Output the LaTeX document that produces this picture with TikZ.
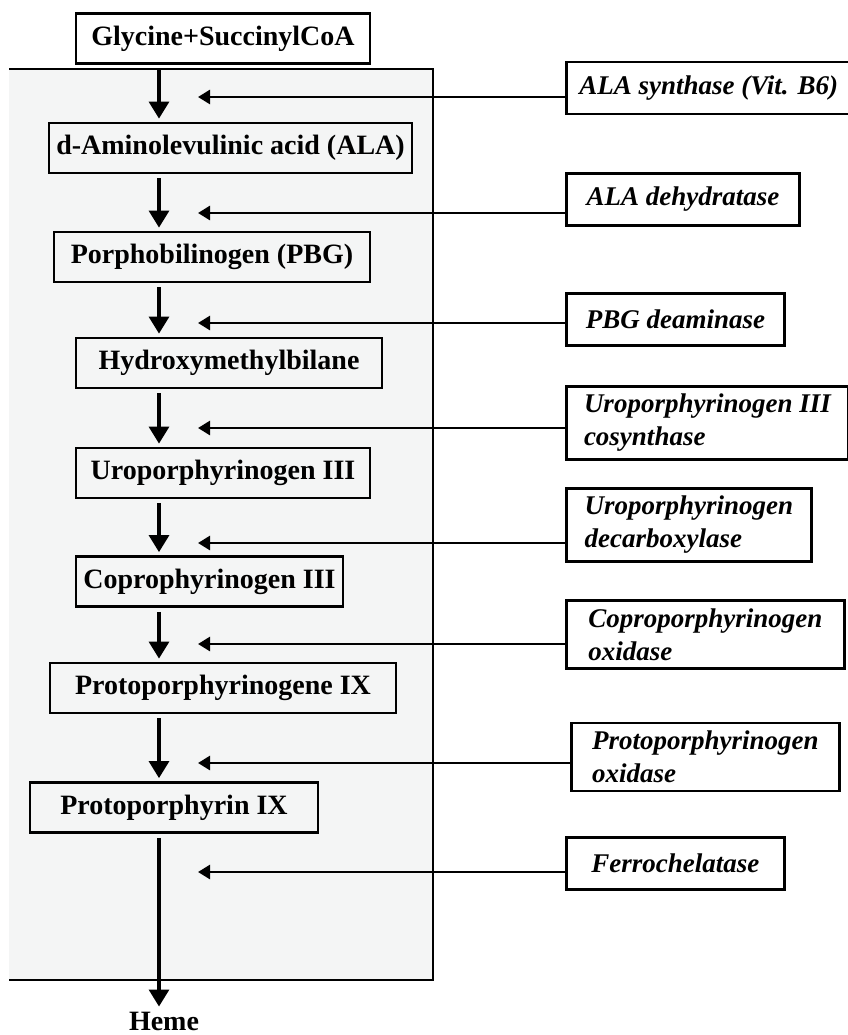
\documentclass[tikz,border=0pt]{standalone}
\usepackage{fontspec}
\setmainfont{Liberation Serif}
\usetikzlibrary{arrows.meta}
\usetikzlibrary{positioning}
\definecolor{panelgray}{HTML}{F4F5F5}
\tikzstyle{metab} = [rectangle, draw=black, line width=2.8pt, minimum height=50pt, inner xsep=6pt, inner ysep=9pt, text centered, font=\fontsize{28}{33}\selectfont\bfseries]
\tikzstyle{enzyme} = [rectangle, draw=black, line width=2.8pt, fill=white, minimum height=52pt, inner xsep=13pt, inner ysep=8pt, align=left, anchor=west, font=\fontsize{27}{33}\selectfont\bfseries\itshape]
\tikzstyle{flow} = [line width=3.2pt, -{Triangle[length=17pt,width=20pt]}, shorten <=4pt, shorten >=3pt]
\tikzstyle{act} = [line width=2.6pt, -{Triangle[length=12pt,width=14pt]}]

\begin{document}
\begin{tikzpicture}[x=1pt, y=1pt]
\useasboundingbox (0,0) rectangle (847,-1035);

% panel
\fill[panelgray] (9,-69) rectangle (433,-980);
\draw[line width=2.8pt] (9,-69) -- (433,-69) -- (433,-980) -- (9,-980);

\coordinate (col) at (159,0);

\node (gly) [metab, minimum width=294pt] at (223,-38.5) {Glycine+SuccinylCoA};
\node (ala) [metab, minimum width=363pt] at (230.5,-148) {d-Aminolevulinic acid (ALA)};
\node (pbg) [metab, minimum width=316pt] at (212,-257) {Porphobilinogen (PBG)};
\node (hmb) [metab, minimum width=306pt] at (229,-363) {Hydroxymethylbilane};
\node (uro) [metab, minimum width=294pt] at (223,-473) {Uroporphyrinogen III};
\node (copro) [metab, minimum width=267pt] at (209.5,-581.5) {Coprophyrinogen III};
\node (protogen) [metab, minimum width=346pt] at (223,-688) {Protoporphyrinogene IX};
\node (protoix) [metab, minimum width=288pt] at (174,-807.5) {Protoporphyrin IX};
\node (heme) [font=\fontsize{28}{33}\selectfont\bfseries, inner sep=2pt] at (164,-1021) {Heme};

\node (alasyn) [enzyme, minimum width=280pt] at (565,-88) {ALA synthase (Vit. B6)};
\node (aladeh) [enzyme, minimum width=233pt] at (565,-199.5) {ALA dehydratase};
\node (pbgdea) [enzyme, minimum width=218pt] at (565,-319.5) {PBG deaminase};
\node (urocos) [enzyme, minimum width=282pt] at (565,-423) {Uroporphyrinogen III\\cosynthase};
\node (urodec) [enzyme, minimum width=245pt] at (565,-525) {Uroporphyrinogen\\decarboxylase};
\node (coprox) [enzyme, minimum width=278pt] at (565,-634.5) {Coproporphyrinogen\\oxidase};
\node (protox) [enzyme, minimum width=268pt] at (570,-757) {Protoporphyrinogen\\oxidase};
\node (ferro) [enzyme, minimum width=218pt] at (565,-863.5) {Ferrochelatase};

\foreach \a/\b in {gly/ala, ala/pbg, pbg/hmb, hmb/uro, uro/copro, copro/protogen, protogen/protoix, protoix/heme}
  \draw[flow] (\a.south -| col) -- (\b.north -| col);

\foreach \n/\y in {alasyn/97, aladeh/213, pbgdea/323, urocos/428, urodec/543, coprox/644, protox/763, ferro/872} {
  \coordinate (\n-tip) at (198,-\y);
  \draw[act] (\n.west |- \n-tip) -- (\n-tip);
}
\end{tikzpicture}
\end{document}
